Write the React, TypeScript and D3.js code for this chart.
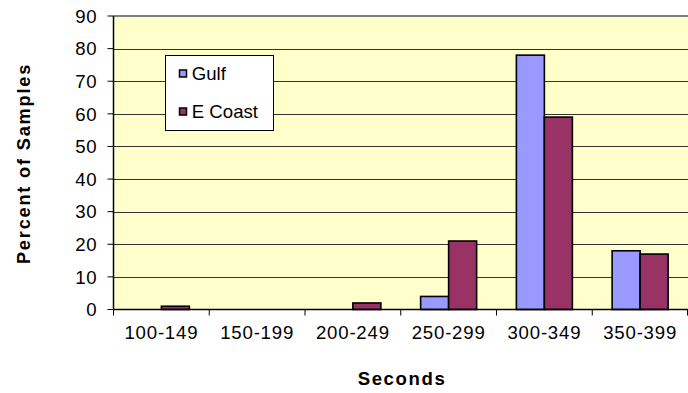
import React from "react";
import * as d3 from "d3";

const categories = ["100-149", "150-199", "200-249", "250-299", "300-349", "350-399"];
const seriesNames = ["Gulf", "E Coast"];
const gulfValues = [0, 0, 0, 4, 78, 18];
const eCoastValues = [1, 0, 2, 21, 59, 17];
const yTicks = [0, 10, 20, 30, 40, 50, 60, 70, 80, 90];
const colors = ["#9999FF", "#993366"];

const W = 688;
const H = 393;
const left = 113.5;
const right = 688;
const top = 16;
const bottom = 309.5;

export default function App() {
  const x0 = d3.scaleBand<string>().domain(categories).range([left, right]).paddingInner(0).paddingOuter(0);
  const x1 = d3.scaleBand<string>().domain(seriesNames).range([0, x0.bandwidth()]).paddingInner(0).paddingOuter(0.71);
  const y = d3.scaleLinear().domain([0, 90]).range([bottom, top]);
  const values = [gulfValues, eCoastValues];
  const font = "'Liberation Sans', Arial, sans-serif";
  const fs = 18.6;

  return (
    <svg width={W} height={H} style={{ position: "absolute", left: 0, top: 0, display: "block" }} fontFamily={font}>
      <rect x={0} y={0} width={W} height={H} fill="#ffffff" />
      <rect x={left} y={top} width={right - left} height={bottom - top} fill="#FFFFCC" />
      <line x1={left} x2={right} y1={top} y2={top} stroke="#808080" strokeWidth={2} />
      {yTicks.filter((t) => t > 0 && t < 90).map((t) => (
        <line key={t} x1={left} x2={right} y1={Math.round(y(t)) + 0.5} y2={Math.round(y(t)) + 0.5} stroke="#333333" strokeWidth={1} />
      ))}
      {categories.map((c, i) =>
        seriesNames.map((s, j) => {
          const v = values[j][i];
          if (v <= 0) return null;
          const bx = (x0(c) as number) + (x1(s) as number);
          return (
            <rect key={c + s} x={bx} y={y(v)} width={x1.bandwidth()} height={bottom - y(v)} fill={colors[j]} stroke="#000" strokeWidth={1.6} />
          );
        })
      )}
      {/* axes */}
      <line x1={left} x2={left} y1={top} y2={bottom} stroke="#000" strokeWidth={1.5} />
      <line x1={left} x2={right} y1={bottom} y2={bottom} stroke="#000" strokeWidth={1.5} />
      {yTicks.map((t) => (
        <g key={t}>
          <line x1={left - 6} x2={left} y1={y(t)} y2={y(t)} stroke="#000" strokeWidth={1} />
          <text x={97.5} y={y(t)} dy="0.36em" textAnchor="end" fontSize={fs} letterSpacing={0.8} fill="#000">{t}</text>
        </g>
      ))}
      {categories.map((c, i) => (
        <g key={c}>
          <line x1={(x0(c) as number)} x2={(x0(c) as number)} y1={bottom} y2={bottom + 6} stroke="#000" strokeWidth={1} />
          <text x={(x0(c) as number) + x0.bandwidth() / 2} y={339.3} textAnchor="middle" fontSize={fs} letterSpacing={0.8} fill="#000">{c}</text>
        </g>
      ))}
      <line x1={right - 0.5} x2={right - 0.5} y1={bottom} y2={bottom + 6} stroke="#000" strokeWidth={1} />
      <text x={402} y={385} textAnchor="middle" fontSize={fs} letterSpacing={1.6} fontWeight="bold" fill="#000">Seconds</text>
      <text transform={`translate(30,${163.5}) rotate(-90)`} textAnchor="middle" fontSize={18.2} letterSpacing={1.8} fontWeight="bold" fill="#000">Percent of Samples</text>
      {/* legend */}
      <rect x={165.5} y={55.5} width={108} height={75} fill="#ffffff" stroke="#000" strokeWidth={1} />
      {seriesNames.map((s, j) => (
        <g key={s}>
          <rect x={179.5} y={j === 0 ? 70 : 108} width={7} height={7} fill={colors[j]} stroke="#000" strokeWidth={1.5} />
          <text x={191.8} y={j === 0 ? 80 : 118.3} fontSize={fs} fill="#000">{s}</text>
        </g>
      ))}
    </svg>
  );
}
